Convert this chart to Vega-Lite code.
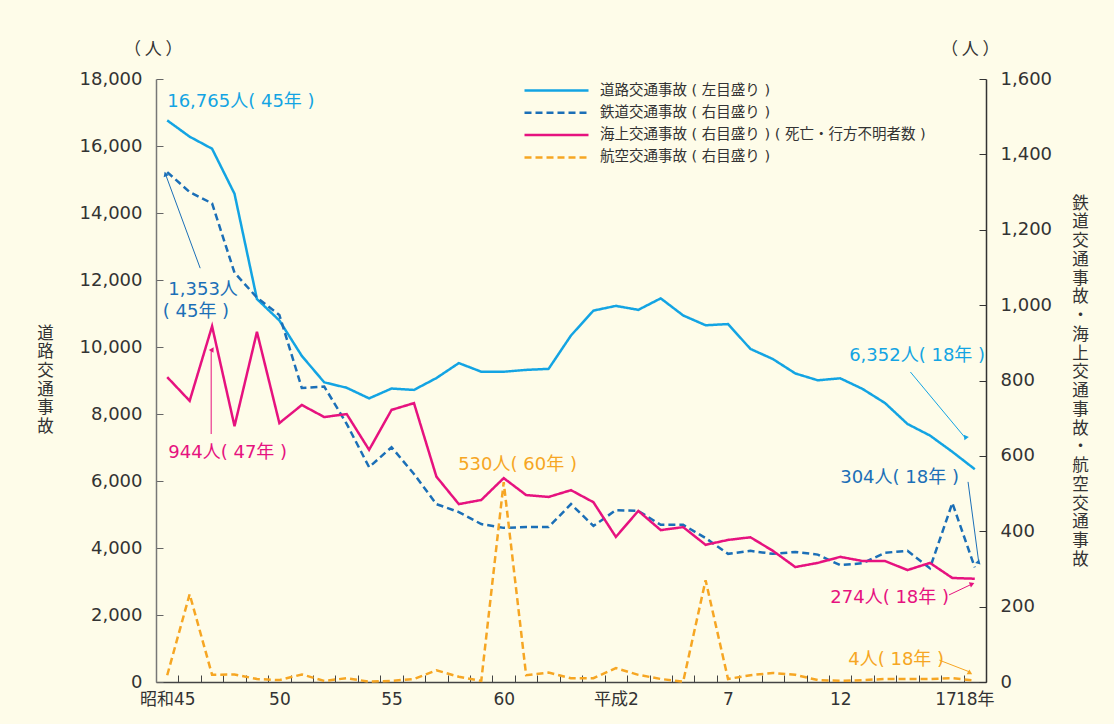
{
  "$schema": "https://vega.github.io/schema/vega-lite/v6.json",
  "width": 830,
  "height": 603,
  "autosize": {"type": "none"},
  "padding": {"left": 156, "top": 79, "right": 128, "bottom": 42},
  "background": "#FEFCE9",
  "config": {
    "view": {"stroke": null},
    "font": "DejaVu Sans, Noto Sans CJK JP",
    "axis": {"labelColor": "#333333", "titleColor": "#333333", "labelFont": "DejaVu Sans, Noto Sans CJK JP", "titleFont": "Noto Sans CJK JP"}
  },
  "datasets": {
    "series": [
      {"year": 1970, "road": 16765, "rail": 1353, "sea": 809, "air": 18},
      {"year": 1971, "road": 16278, "rail": 1300, "sea": 746, "air": 233},
      {"year": 1972, "road": 15918, "rail": 1270, "sea": 944, "air": 19},
      {"year": 1973, "road": 14574, "rail": 1086, "sea": 679, "air": 20},
      {"year": 1974, "road": 11432, "rail": 1020, "sea": 929, "air": 8},
      {"year": 1975, "road": 10792, "rail": 974, "sea": 687, "air": 5},
      {"year": 1976, "road": 9734, "rail": 780, "sea": 735, "air": 20},
      {"year": 1977, "road": 8945, "rail": 784, "sea": 703, "air": 3},
      {"year": 1978, "road": 8783, "rail": 685, "sea": 711, "air": 10},
      {"year": 1979, "road": 8466, "rail": 570, "sea": 616, "air": 1},
      {"year": 1980, "road": 8760, "rail": 623, "sea": 722, "air": 3},
      {"year": 1981, "road": 8719, "rail": 552, "sea": 740, "air": 8},
      {"year": 1982, "road": 9073, "rail": 472, "sea": 545, "air": 31},
      {"year": 1983, "road": 9520, "rail": 451, "sea": 472, "air": 14},
      {"year": 1984, "road": 9262, "rail": 419, "sea": 483, "air": 3},
      {"year": 1985, "road": 9261, "rail": 409, "sea": 541, "air": 530},
      {"year": 1986, "road": 9317, "rail": 411, "sea": 496, "air": 18},
      {"year": 1987, "road": 9347, "rail": 411, "sea": 491, "air": 25},
      {"year": 1988, "road": 10344, "rail": 472, "sea": 509, "air": 10},
      {"year": 1989, "road": 11086, "rail": 414, "sea": 477, "air": 10},
      {"year": 1990, "road": 11227, "rail": 456, "sea": 385, "air": 37},
      {"year": 1991, "road": 11109, "rail": 454, "sea": 454, "air": 19},
      {"year": 1992, "road": 11452, "rail": 417, "sea": 403, "air": 8},
      {"year": 1993, "road": 10942, "rail": 417, "sea": 411, "air": 1},
      {"year": 1994, "road": 10649, "rail": 382, "sea": 364, "air": 270},
      {"year": 1995, "road": 10684, "rail": 340, "sea": 377, "air": 8},
      {"year": 1996, "road": 9942, "rail": 348, "sea": 384, "air": 18},
      {"year": 1997, "road": 9640, "rail": 340, "sea": 348, "air": 24},
      {"year": 1998, "road": 9211, "rail": 345, "sea": 305, "air": 19},
      {"year": 1999, "road": 9006, "rail": 338, "sea": 316, "air": 5},
      {"year": 2000, "road": 9066, "rail": 310, "sea": 332, "air": 3},
      {"year": 2001, "road": 8747, "rail": 315, "sea": 321, "air": 5},
      {"year": 2002, "road": 8326, "rail": 343, "sea": 321, "air": 8},
      {"year": 2003, "road": 7702, "rail": 348, "sea": 297, "air": 8},
      {"year": 2004, "road": 7358, "rail": 302, "sea": 316, "air": 8},
      {"year": 2005, "road": 6871, "rail": 475, "sea": 276, "air": 10},
      {"year": 2006, "road": 6352, "rail": 304, "sea": 274, "air": 4}
    ],
    "notes": [
      {"side": "left", "series": "road", "year": 1970.0, "value": 17300, "text": "16,765人( 45年 )"},
      {"side": "left", "series": "road", "year": 2000.4, "value": 9731, "text": "6,352人( 18年 )"},
      {"side": "right", "series": "rail", "year": 1970.05, "value": 1040, "text": "1,353人"},
      {"side": "right", "series": "rail", "year": 1969.8, "value": 982, "text": "( 45年 )"},
      {"side": "right", "series": "sea", "year": 1970.05, "value": 608, "text": "944人( 47年 )"},
      {"side": "right", "series": "air", "year": 1982.97, "value": 576, "text": "530人( 60年 )"},
      {"side": "right", "series": "rail", "year": 2000.0, "value": 541, "text": "304人( 18年 )"},
      {"side": "right", "series": "sea", "year": 1999.56, "value": 223, "text": "274人( 18年 )"},
      {"side": "right", "series": "air", "year": 2000.36, "value": 58, "text": "4人( 18年 )"}
    ],
    "arrows": [
      {"id": "a1", "side": "right", "series": "rail", "year": 1969.92, "value": 1348, "year2": 1971.47, "value2": 1098},
      {"id": "a2", "side": "right", "series": "sea", "year": 1971.96, "value": 881, "year2": 1971.96, "value2": 658},
      {"id": "a3", "side": "left", "series": "road", "year": 2005.58, "value": 7284, "year2": 2003.13, "value2": 9254},
      {"id": "a4", "side": "right", "series": "rail", "year": 2006.18, "value": 316, "year2": 2005.7, "value2": 531},
      {"id": "a5", "side": "right", "series": "sea", "year": 2005.88, "value": 260, "year2": 2004.85, "value2": 231},
      {"id": "a6", "side": "right", "series": "air", "year": 2005.76, "value": 27, "year2": 2004.42, "value2": 58}
    ]
  },
  "encoding": {
    "x": {
      "field": "year", "type": "quantitative",
      "scale": {"domain": [1969.5, 2006.5], "nice": false, "zero": false},
      "axis": {
        "values": [1970,1971,1972,1973,1974,1975,1976,1977,1978,1979,1980,1981,1982,1983,1984,1985,1986,1987,1988,1989,1990,1991,1992,1993,1994,1995,1996,1997,1998,1999,2000,2001,2002,2003,2004,2005,2006],
        "labelExpr": "datum.value == 1970 ? '昭和45' : datum.value == 1975 ? '50' : datum.value == 1980 ? '55' : datum.value == 1985 ? '60' : datum.value == 1990 ? '平成2' : datum.value == 1995 ? '7' : datum.value == 2000 ? '12' : datum.value == 2005 ? '17' : datum.value == 2006 ? '18年' : ''",
        "labelAlign": {"condition": {"test": "datum.value == 2005", "value": "right"}, "value": "center"},
        "labelOffset": {"condition": {"test": "datum.value == 2005", "value": -7.2}, "value": -11.216},
        "tickOffset": 11.216,
        "tickSize": -7,
        "tickColor": "#444444",
        "domainColor": "#444444",
        "domainWidth": 1.5,
        "labelPadding": 16,
        "labelFontSize": 17,
        "labelOverlap": false,
        "labelBound": false,
        "labelFlush": false,
        "grid": false,
        "title": null
      }
    }
  },
  "layer": [
    {
      "encoding": {
        "y": {
          "field": "value", "type": "quantitative",
          "scale": {"domain": [0, 18000], "nice": false},
          "axis": {
            "values": [0,2000,4000,6000,8000,10000,12000,14000,16000,18000],
            "format": ",d",
            "tickSize": -7,
            "tickColor": "#666666",
            "domainColor": "#777777",
            "domainWidth": 1.5,
            "labelPadding": 21,
            "labelFontSize": 18,
            "grid": false,
            "title": ["道","路","交","通","事","故"],
            "titleAngle": 0,
            "titleAlign": "center",
            "titleBaseline": "top",
            "titleFontSize": 16.5,
            "titleFontWeight": "normal",
            "titleLineHeight": 18.7,
            "titleX": -111,
            "titleY": 246
          }
        }
      },
      "layer": [
        {
          "data": {"name": "series"},
          "transform": [
            {"fold": ["road", "rail", "sea", "air"], "as": ["series", "value"]},
            {"filter": "datum.series == 'road'"}
          ],
          "mark": {"type": "line", "strokeWidth": 2.5},
          "encoding": {
            "color": {
              "field": "series", "type": "nominal",
              "scale": {"domain": ["road", "rail", "sea", "air"], "range": ["#13A4E3", "#1B6FB7", "#E6127F", "#F6A623"]},
              "legend": {
                "orient": "none", "legendX": 391, "legendY": 2, "title": null,
                "symbolType": "M-4,0H4", "symbolSize": 256, "symbolStrokeWidth": 2.5,
                "labelFontSize": 14.5, "labelColor": "#333333", "labelOffset": 34, "rowPadding": 6.3,
                "labelLimit": 0,
                "padding": 0,
                "labelExpr": "datum.label == 'road' ? '道路交通事故 ( 左目盛り )' : datum.label == 'rail' ? '鉄道交通事故 ( 右目盛り )' : datum.label == 'sea' ? '海上交通事故 ( 右目盛り ) ( 死亡・行方不明者数 )' : '航空交通事故 ( 右目盛り )'"
              }
            },
            "strokeDash": {
              "field": "series", "type": "nominal",
              "scale": {"domain": ["road", "rail", "sea", "air"], "range": [[1, 0], [7, 4], [1, 0], [7, 4]]},
              "legend": {
                "orient": "none", "legendX": 391, "legendY": 2, "title": null,
                "symbolType": "M-4,0H4", "symbolSize": 256, "symbolStrokeWidth": 2.5,
                "labelFontSize": 14.5, "labelColor": "#333333", "labelOffset": 34, "rowPadding": 6.3,
                "labelLimit": 0,
                "padding": 0,
                "labelExpr": "datum.label == 'road' ? '道路交通事故 ( 左目盛り )' : datum.label == 'rail' ? '鉄道交通事故 ( 右目盛り )' : datum.label == 'sea' ? '海上交通事故 ( 右目盛り ) ( 死亡・行方不明者数 )' : '航空交通事故 ( 右目盛り )'"
              }
            }
          }
        },
        {
          "data": {"name": "notes"},
          "transform": [{"filter": "datum.side == 'left'"}],
          "mark": {"type": "text", "align": "left", "baseline": "middle", "fontSize": 18},
          "encoding": {
            "text": {"field": "text"},
            "color": {"field": "series", "type": "nominal", "legend": null}
          }
        },
        {
          "data": {"name": "arrows"},
          "transform": [{"filter": "datum.side == 'left'"}],
          "mark": {"type": "rule", "strokeWidth": 1},
          "encoding": {
            "x2": {"field": "year2"},
            "y2": {"field": "value2"},
            "color": {"field": "series", "type": "nominal", "legend": null}
          }
        },
        {
          "data": {"name": "arrows"},
          "transform": [{"filter": "datum.side == 'left'"}],
          "mark": {"type": "point", "shape": "triangle-up", "filled": true, "opacity": 1, "size": 30},
          "encoding": {
            "angle": {"field": "id", "type": "nominal", "scale": {"domain": ["a1","a2","a3","a4","a5","a6"], "range": [340, 0, 140, 172, 64, 112]}, "legend": null},
            "color": {"field": "series", "type": "nominal", "legend": null}
          }
        },
        {
          "data": {"values": [{"year": 1969.38, "value": 18870, "t": "（  人  ）"}]},
          "mark": {"type": "text", "align": "center", "baseline": "middle", "fontSize": 17, "color": "#333333", "font": "Noto Sans CJK JP"},
          "encoding": {
            "text": {"field": "t"}
          }
        }
      ]
    },
    {
      "encoding": {
        "y": {
          "field": "value", "type": "quantitative",
          "scale": {"domain": [0, 1600], "nice": false},
          "axis": {
            "orient": "right",
            "values": [0,200,400,600,800,1000,1200,1400,1600],
            "format": ",d",
            "tickSize": -7,
            "tickColor": "#333333",
            "domainColor": "#333333",
            "domainWidth": 1.5,
            "labelPadding": 21,
            "labelFontSize": 18,
            "grid": false,
            "title": ["鉄","道","交","通","事","故","・","海","上","交","通","事","故","・","航","空","交","通","事","故"],
            "titleAngle": 0,
            "titleAlign": "center",
            "titleBaseline": "top",
            "titleFontSize": 16.5,
            "titleFontWeight": "normal",
            "titleLineHeight": 18.75,
            "titleX": 94,
            "titleY": 116
          }
        }
      },
      "layer": [
        {
          "data": {"name": "series"},
          "transform": [
            {"fold": ["road", "rail", "sea", "air"], "as": ["series", "value"]},
            {"filter": "datum.series != 'road'"}
          ],
          "mark": {"type": "line", "strokeWidth": 2.5},
          "encoding": {
            "color": {"field": "series", "type": "nominal"},
            "strokeDash": {"field": "series", "type": "nominal"}
          }
        },
        {
          "data": {"name": "notes"},
          "transform": [{"filter": "datum.side == 'right'"}],
          "mark": {"type": "text", "align": "left", "baseline": "middle", "fontSize": 18},
          "encoding": {
            "text": {"field": "text"},
            "color": {"field": "series", "type": "nominal", "legend": null}
          }
        },
        {
          "data": {"name": "arrows"},
          "transform": [{"filter": "datum.side == 'right'"}],
          "mark": {"type": "rule", "strokeWidth": 1},
          "encoding": {
            "x2": {"field": "year2"},
            "y2": {"field": "value2"},
            "color": {"field": "series", "type": "nominal", "legend": null}
          }
        },
        {
          "data": {"name": "arrows"},
          "transform": [{"filter": "datum.side == 'right'"}],
          "mark": {"type": "point", "shape": "triangle-up", "filled": true, "opacity": 1, "size": 30},
          "encoding": {
            "angle": {"field": "id", "type": "nominal", "scale": {"domain": ["a1","a2","a3","a4","a5","a6"], "range": [340, 0, 140, 172, 64, 112]}, "legend": null},
            "color": {"field": "series", "type": "nominal", "legend": null}
          }
        },
        {
          "data": {"values": [{"year": 2005.8, "value": 1677, "t": "（  人  ）"}]},
          "mark": {"type": "text", "align": "center", "baseline": "middle", "fontSize": 17, "color": "#333333", "font": "Noto Sans CJK JP"},
          "encoding": {
            "text": {"field": "t"}
          }
        }
      ]
    }
  ],
  "resolve": {"scale": {"y": "independent"}}
}
